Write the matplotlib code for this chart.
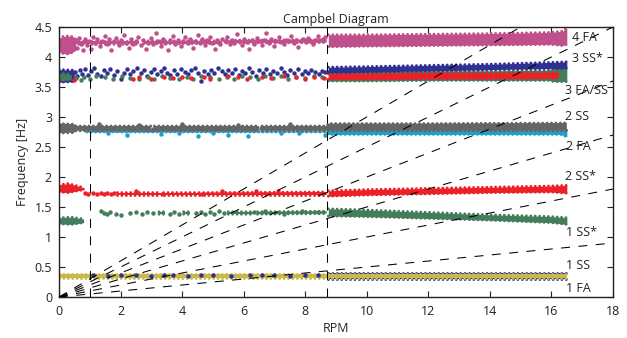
import numpy as np
import matplotlib
matplotlib.use('Agg')
import matplotlib.pyplot as plt

plt.rcParams['font.family'] = ['Open Sans', 'DejaVu Sans']
plt.rcParams['font.size'] = 9
nan = np.nan

# ---- colours of the modes
pink, navy, green, red = '#c0508c', '#2e3192', '#437d5c', '#ec2027'
grey, cyan, yellow = '#656565', '#1d9fc9', '#c9b94b'

# ---- excitation lines (multiples of rotor speed) and operating marks
harmonics = [3, 6, 9, 12, 15, 18]
vline_rpm = [1.0, 8.7]

# ---- dense bands: rpm, lower and upper frequency [Hz]
pink_rpm = [8.75, 10, 12, 14, 16, 16.35, 16.5]
pink_lo = [4.17, 4.18, 4.19, 4.2, 4.21, 4.19, 4.21]
pink_hi = [4.37, 4.37, 4.38, 4.39, 4.41, 4.43, 4.48]
pink_low_rpm = [0, 0.1, 0.3, 0.45, 0.55]
pink_low_lo = [4.09, 4.06, 4.05, 4.08, 4.13]
pink_low_hi = [4.31, 4.34, 4.35, 4.34, 4.29]
pink_mid_rpm = [0.5, 2.6, 2.68, 2.75, 5.3, 5.38, 5.45, 8.7]
pink_mid_lo = [4.21, 4.21, nan, 4.22, 4.22, nan, 4.23, 4.24]
pink_mid_hi = [4.26, 4.26, nan, 4.27, 4.27, nan, 4.28, 4.29]

blue_rpm = [8.75, 10, 12, 14, 16, 16.5]
blue_lo = [3.74, 3.75, 3.77, 3.79, 3.81, 3.81]
blue_hi = [3.83, 3.84, 3.86, 3.88, 3.91, 3.92]
blue_low_rpm = [0, 0.5]
blue_low_lo = [3.58, 3.59]
blue_low_hi = [3.79, 3.78]

green3_rpm = [8.75, 10, 12, 14, 15.9, 16.1, 16.5]
green3_lo = [3.6, 3.6, 3.61, 3.61, 3.61, 3.59, 3.59]
green3_hi = [3.76, 3.76, 3.77, 3.77, 3.78, 3.83, 3.85]
green3_low_rpm = [0, 0.4]
green3_low_lo = [3.61, 3.62]
green3_low_hi = [3.73, 3.71]

red3_rpm = [8.75, 10, 12, 14, 16.2]
red3_lo = [3.63, 3.63, 3.64, 3.64, 3.65]
red3_hi = [3.72, 3.72, 3.73, 3.73, 3.74]

grey_rpm = [0, 0.5, 0.55, 3.0, 3.05, 3.1, 6.5, 6.55, 6.6, 8.7, 8.75, 12, 16.5]
grey_lo = [2.73, 2.74, 2.77, 2.77, nan, 2.77, 2.77, nan, 2.77, 2.77, 2.77, 2.77, 2.77]
grey_hi = [2.89, 2.88, 2.85, 2.85, nan, 2.85, 2.85, nan, 2.85, 2.85, 2.89, 2.89, 2.9]
cyan_rpm = [0.9, 8.7, 8.75, 12, 16.3, 16.5]
cyan_lo = [2.75, 2.75, 2.71, 2.71, 2.71, 2.67]
cyan_hi = [2.77, 2.77, 2.78, 2.78, 2.78, 2.78]

red2_rpm = [8.75, 10, 12, 14, 16, 16.5]
red2_lo = [1.68, 1.7, 1.72, 1.74, 1.75, 1.73]
red2_hi = [1.77, 1.79, 1.81, 1.83, 1.85, 1.86]
red2_low_rpm = [0, 0.3, 0.6, 0.82]
red2_low_lo = [1.75, 1.74, 1.77, 1.79]
red2_low_hi = [1.87, 1.89, 1.85, 1.82]
red2_mid_rpm = [1.9, 3.3, 3.35, 3.4, 4.6, 4.65, 4.7, 8.7]
red2_mid_lo = [1.7, 1.7, nan, 1.7, 1.7, nan, 1.7, 1.7]
red2_mid_hi = [1.74, 1.74, nan, 1.74, 1.74, nan, 1.74, 1.75]

green1_rpm = [8.75, 10, 12, 14, 16, 16.5]
green1_lo = [1.35, 1.34, 1.31, 1.28, 1.24, 1.21]
green1_hi = [1.47, 1.45, 1.41, 1.37, 1.34, 1.32]
green1_low_rpm = [0, 0.4, 0.8]
green1_low_lo = [1.22, 1.21, 1.24]
green1_low_hi = [1.32, 1.33, 1.3]
green1_mid_rpm = [3.25, 3.45, 3.5, 4.05, 4.25, 4.3, 5.5, 6.3, 6.35, 6.45, 8.7]
green1_mid_lo = [1.38, 1.38, nan, 1.38, 1.38, nan, 1.38, 1.38, nan, 1.38, 1.39]
green1_mid_hi = [1.42, 1.42, nan, 1.42, 1.42, nan, 1.42, 1.42, nan, 1.42, 1.43]

blue1_rpm = [8.75, 16.5]
blue1_lo = [0.305, 0.305]
blue1_hi = [0.395, 0.395]
yellow_rpm = [0, 16.5]
yellow_lo = [0.315, 0.315]
yellow_hi = [0.385, 0.385]

# ---- scattered points between 0.5 and 8.7 rpm
pink_dot_rpm = [0.55, 0.6, 0.66, 0.72, 0.78, 0.83, 0.9, 0.97, 1.04, 1.1, 1.17, 1.25, 1.32, 1.4,
                1.48, 1.55, 1.62, 1.7, 1.78, 1.86, 1.95, 2.02, 2.1, 2.18, 2.26, 2.35, 2.42, 2.5,
                2.58, 2.66, 2.74, 2.82, 2.9, 2.98, 3.06, 3.14, 3.22, 3.3, 3.38, 3.46, 3.55, 3.62,
                3.7, 3.78, 3.86, 3.95, 4.02, 4.1, 4.18, 4.26, 4.35, 4.42, 4.5, 4.58, 4.66, 4.74,
                4.82, 4.9, 4.98, 5.06, 5.14, 5.22, 5.3, 5.38, 5.46, 5.55, 5.62, 5.7, 5.78, 5.86,
                5.94, 6.02, 6.1, 6.18, 6.26, 6.35, 6.42, 6.5, 6.58, 6.66, 6.74, 6.82, 6.9, 6.98,
                7.06, 7.14, 7.22, 7.3, 7.38, 7.46, 7.55, 7.62, 7.7, 7.78, 7.86, 7.94, 8.02, 8.1,
                8.18, 8.26, 8.34, 8.42, 8.5, 8.58, 8.65]
pink_dot_hz = [4.28, 4.15, 4.32, 4.22, 4.12, 4.3, 4.2, 4.27, 4.14, 4.33, 4.24, 4.3, 4.18, 4.27,
               4.35, 4.22, 4.3, 4.12, 4.26, 4.32, 4.2, 4.28, 4.36, 4.24, 4.15, 4.3, 4.22, 4.27,
               4.34, 4.2, 4.28, 4.13, 4.24, 4.31, 4.22, 4.4, 4.27, 4.18, 4.3, 4.24, 4.12, 4.28,
               4.35, 4.22, 4.29, 4.18, 4.26, 4.33, 4.23, 4.3, 4.15, 4.27, 4.37, 4.24, 4.3, 4.2,
               4.28, 4.33, 4.24, 4.14, 4.29, 4.22, 4.3, 4.26, 4.34, 4.21, 4.28, 4.24, 4.38, 4.27,
               4.2, 4.3, 4.25, 4.13, 4.28, 4.22, 4.32, 4.26, 4.2, 4.29, 4.4, 4.24, 4.3, 4.18,
               4.27, 4.33, 4.25, 4.21, 4.29, 4.26, 4.35, 4.24, 4.28, 4.16, 4.27, 4.3, 4.25, 4.32,
               4.27, 4.22, 4.29, 4.35, 4.28, 4.3, 4.33]

blue_dot_rpm = [0.52, 0.6, 0.68, 0.76, 0.85, 0.95, 1.05, 1.15, 1.25, 1.35, 1.45, 1.55, 1.65, 1.78,
                1.9, 2.0, 2.1, 2.2, 2.32, 2.42, 2.55, 2.65, 2.75, 2.85, 2.98, 3.08, 3.2, 3.3,
                3.42, 3.52, 3.62, 3.75, 3.85, 3.97, 4.08, 4.2, 4.3, 4.42, 4.52, 4.62, 4.72, 4.85,
                4.95, 5.05, 5.18, 5.28, 5.4, 5.5, 5.62, 5.72, 5.85, 5.95, 6.05, 6.18, 6.28, 6.4,
                6.5, 6.62, 6.72, 6.85, 6.95, 7.08, 7.2, 7.3, 7.42, 7.52, 7.65, 7.75, 7.88, 7.98,
                8.1, 8.2, 8.32, 8.45, 8.55, 8.65]
blue_dot_hz = [3.75, 3.68, 3.78, 3.72, 3.8, 3.7, 3.76, 3.82, 3.72, 3.68, 3.78, 3.74, 3.8, 3.7,
               3.76, 3.64, 3.74, 3.8, 3.72, 3.77, 3.82, 3.73, 3.78, 3.68, 3.75, 3.8, 3.72, 3.77,
               3.82, 3.74, 3.7, 3.78, 3.72, 3.8, 3.75, 3.71, 3.78, 3.82, 3.74, 3.6, 3.77, 3.72,
               3.79, 3.74, 3.82, 3.76, 3.72, 3.79, 3.74, 3.8, 3.7, 3.77, 3.73, 3.81, 3.75, 3.69,
               3.78, 3.74, 3.8, 3.72, 3.77, 3.74, 3.82, 3.75, 3.7, 3.78, 3.74, 3.8, 3.72, 3.77,
               3.74, 3.79, 3.75, 3.71, 3.77, 3.75]

green3_dot_rpm = [0.55, 0.7, 0.8, 1.0, 1.2, 1.5, 1.75, 2.05, 2.3, 2.6, 2.9, 3.1, 3.35, 3.6, 3.9,
                  4.15, 4.35, 4.6, 4.9, 5.2, 5.45, 5.7, 5.95, 6.2, 6.45, 6.7, 6.95, 7.2, 7.45,
                  7.7, 8.0, 8.3, 8.55]
green3_dot_hz = [3.65, 3.62, 3.67, 3.64, 3.68, 3.66, 3.63, 3.68, 3.65, 3.63, 3.67, 3.64, 3.68,
                 3.65, 3.63, 3.67, 3.64, 3.69, 3.66, 3.63, 3.67, 3.64, 3.69, 3.66, 3.63, 3.68,
                 3.65, 3.69, 3.64, 3.67, 3.65, 3.68, 3.66]

red3_dot_rpm = [0.5, 2.4, 2.6, 3.0, 3.4, 3.7, 4.0, 4.3, 4.7, 4.9, 5.5, 5.8, 6.1, 6.6, 6.9, 7.3,
                7.7, 8.0, 8.3, 8.6]
red3_dot_hz = [3.62, 3.64, 3.66, 3.64, 3.66, 3.65, 3.67, 3.65, 3.67, 3.64, 3.68, 3.66, 3.64,
               3.67, 3.65, 3.68, 3.66, 3.64, 3.67, 3.65]

grey_dot_rpm = [1.3, 2.6, 4.0, 5.8, 7.5, 3.05, 6.55]
grey_dot_hz = [2.88, 2.87, 2.88, 2.87, 2.88, 2.8, 2.81]

cyan_dot_rpm = [2.2, 3.3, 4.5, 5.5, 6.15, 7.2, 8.64, 1.6, 3.9, 5.0, 7.8]
cyan_dot_hz = [2.7, 2.72, 2.68, 2.7, 2.68, 2.73, 2.7, 2.74, 2.73, 2.74, 2.73]

red2_dot_rpm = [0.85, 0.95, 1.1, 1.25, 1.35, 1.45, 1.55, 1.7, 1.8, 3.35, 4.65, 2.5, 5.3, 6.4, 7.1]
red2_dot_hz = [1.73, 1.71, 1.73, 1.72, 1.74, 1.71, 1.73, 1.72, 1.74, 1.72, 1.72, 1.76, 1.77,
               1.76, 1.77]

green1_dot_rpm = [1.35, 1.45, 1.55, 1.65, 1.85, 2.0, 2.3, 2.5, 2.7, 2.85, 3.05, 3.6, 3.75, 3.9,
                  4.45, 4.6, 4.75, 4.9, 5.05, 5.2, 5.35, 6.35, 6.7, 7.3, 7.9, 8.4]
green1_dot_hz = [1.43, 1.4, 1.38, 1.41, 1.39, 1.37, 1.4, 1.42, 1.39, 1.41, 1.4, 1.39, 1.41, 1.38,
                 1.4, 1.42, 1.38, 1.41, 1.39, 1.43, 1.4, 1.42, 1.44, 1.39, 1.43, 1.41]

blue1_dot_rpm = [1.1, 1.6, 2.0, 2.5, 3.0, 3.4, 3.7, 4.2, 4.6, 5.0, 5.6, 6.2, 6.6, 7.0, 7.5, 8.0, 8.4]
blue1_dot_hz = [0.36, 0.35, 0.37, 0.36, 0.35, 0.37, 0.36, 0.35, 0.37, 0.36, 0.35, 0.36, 0.37,
                0.36, 0.35, 0.37, 0.36]

label_text = ['4 FA', '3 SS*', '3 FA/SS', '2 SS', '2 FA', '2 SS*', '1 SS*', '1 SS', '1 FA']
label_rpm = [16.68, 16.68, 16.43, 16.45, 16.46, 16.45, 16.46, 16.46, 16.46]
label_hz = [4.32, 3.98, 3.45, 3.01, 2.51, 2.01, 1.07, 0.53, 0.15]

fig = plt.figure(figsize=(6.27, 3.38), dpi=100)
ax = fig.add_axes([59 / 627, 1 - 297 / 338, 554 / 627, 270 / 338])

# beaded edge so the bands look like a cloud of points rather than a solid strip
bead = (0, (0.01, 1.5))


def band(x, lo, hi, c):
    ax.fill_between(x, lo, hi, color=c, lw=0, zorder=2)
    for edge in (lo, hi):
        ax.plot(x, edge, color=c, lw=2.1, linestyle=bead, dash_capstyle='round', zorder=2)


def dots(x, y, c):
    ax.plot(x, y, 'o', ms=3.2, mew=0, color=c, zorder=2)


# 1 FA
band(blue1_rpm, blue1_lo, blue1_hi, navy)
band(yellow_rpm, yellow_lo, yellow_hi, yellow)
dots(blue1_dot_rpm, blue1_dot_hz, navy)
# 1 SS*
band(green1_rpm, green1_lo, green1_hi, green)
band(green1_low_rpm, green1_low_lo, green1_low_hi, green)
band(green1_mid_rpm, green1_mid_lo, green1_mid_hi, green)
dots(green1_dot_rpm, green1_dot_hz, green)
# 2 SS*
band(red2_rpm, red2_lo, red2_hi, red)
band(red2_low_rpm, red2_low_lo, red2_low_hi, red)
band(red2_mid_rpm, red2_mid_lo, red2_mid_hi, red)
dots(red2_dot_rpm, red2_dot_hz, red)
# 2 FA / 2 SS
band(cyan_rpm, cyan_lo, cyan_hi, cyan)
dots(cyan_dot_rpm, cyan_dot_hz, cyan)
band(grey_rpm, grey_lo, grey_hi, grey)
dots(grey_dot_rpm, grey_dot_hz, grey)
# 3rd modes
band(blue_low_rpm, blue_low_lo, blue_low_hi, navy)
band(green3_low_rpm, green3_low_lo, green3_low_hi, green)
dots(blue_dot_rpm, blue_dot_hz, navy)
dots(green3_dot_rpm, green3_dot_hz, green)
dots(red3_dot_rpm, red3_dot_hz, red)
band(green3_rpm, green3_lo, green3_hi, green)
band(red3_rpm, red3_lo, red3_hi, red)
band(blue_rpm, blue_lo, blue_hi, navy)
# 4 FA
band(pink_low_rpm, pink_low_lo, pink_low_hi, pink)
band(pink_mid_rpm, pink_mid_lo, pink_mid_hi, pink)
dots(pink_dot_rpm, pink_dot_hz, pink)
band(pink_rpm, pink_lo, pink_hi, pink)

dash = (0, (8.6, 8.1))
for n in harmonics:
    ax.axline((0, 0), slope=n / 60, color='k', lw=0.75, linestyle=dash, zorder=3)
for v in vline_rpm:
    ax.axvline(v, color='k', lw=0.75, linestyle=dash, zorder=3)

for t, x, y in zip(label_text, label_rpm, label_hz):
    ax.text(x, y, t, fontsize=9, color='#222222', ha='left', va='center', zorder=4)

ax.set_xlim(0, 18)
ax.set_ylim(0, 4.5)
ax.set_xticks(range(0, 19, 2))
ax.set_yticks(np.arange(0, 4.51, 0.5))
ax.set_yticklabels(['0', '0.5', '1', '1.5', '2', '2.5', '3', '3.5', '4', '4.5'])
ax.tick_params(direction='in', length=4, width=0.8, top=True, right=True,
               colors='#222222', labelsize=9)
ax.tick_params(axis='y', pad=5)
ax.tick_params(axis='x', pad=6)
for s in ax.spines.values():
    s.set_linewidth(1.0)
    s.set_color('#222222')

ax.set_title('Campbel Diagram', fontsize=9, pad=3, color='#222222')
ax.set_xlabel('RPM', fontsize=9, labelpad=3, color='#222222')
ax.set_ylabel('Frequency [Hz]', fontsize=9, labelpad=4, color='#222222')

fig.savefig('out.png', dpi=100)
